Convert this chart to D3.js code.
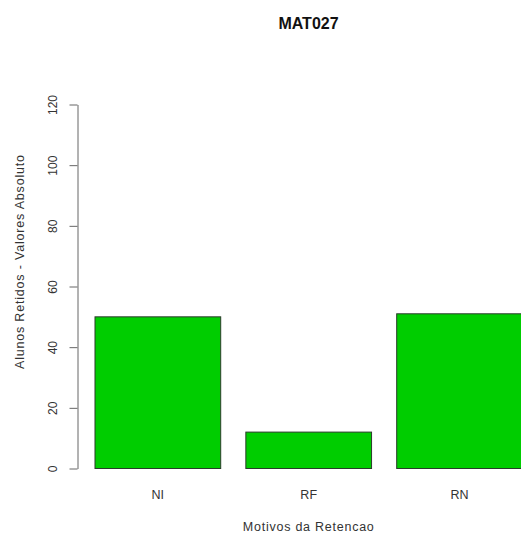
<!DOCTYPE html>
<html>
<head>
<meta charset="utf-8">
<script src="https://cdn.jsdelivr.net/npm/d3@7"></script>
<style>
  html, body { margin: 0; padding: 0; background: #fff; }
  text { font-family: "Liberation Sans", Arial, Helvetica, sans-serif; }
</style>
</head>
<body>
<svg id="chart" width="521" height="534"></svg>
<script>
const categories = ["NI", "RF", "RN"];
const values = [50, 12, 51];
const yTicks = [0, 20, 40, 60, 80, 100, 120];
const title = "MAT027";
const xTitle = "Motivos da Retencao";
const yTitle = "Alunos Retidos - Valores Absoluto";

const svg = d3.select("#chart");

// R barplot coordinates: bar i spans [0.2 + 1.2*i, 1.2 + 1.2*i]
const x = d3.scaleLinear().domain([0.064, 3.736]).range([77.9, 539.5]);
const y = d3.scaleLinear().domain([0, 120]).range([468.5, 104.5]);

const barLeft = i => 0.2 + 1.2 * i;

svg.append("g").selectAll("rect")
  .data(values)
  .join("rect")
  .attr("x", (d, i) => x(barLeft(i)))
  .attr("width", (d, i) => x(barLeft(i) + 1) - x(barLeft(i)))
  .attr("y", d => y(d))
  .attr("height", d => y(0) - y(d))
  .attr("fill", "#00CD00")
  .attr("stroke", "#2b3a2b")
  .attr("stroke-width", 1);

// y axis
const yAxis = d3.axisLeft(y).tickValues(yTicks).tickSizeOuter(0).tickSizeInner(8).tickFormat(d3.format("d"));
const gy = svg.append("g").attr("transform", "translate(77.5,0)").call(yAxis);
gy.select(".domain").attr("stroke", "#666");
gy.selectAll(".tick line").attr("stroke", "#666");
gy.selectAll(".tick text")
  .attr("x", null).attr("dy", null)
  .attr("transform", "translate(-20.5,0) rotate(-90)")
  .attr("text-anchor", "middle")
  .attr("font-size", "12px")
  .attr("fill", "#333")
  .style("font-family", "'Liberation Sans', Arial, sans-serif");

// category labels
svg.append("g").selectAll("text")
  .data(categories)
  .join("text")
  .attr("x", (d, i) => x(barLeft(i) + 0.5))
  .attr("y", 499)
  .attr("text-anchor", "middle")
  .attr("font-size", "12.5px")
  .attr("fill", "#333")
  .text(d => d);

// title
svg.append("text")
  .attr("x", 308.5).attr("y", 29)
  .attr("text-anchor", "middle")
  .attr("font-size", "16px")
  .attr("font-weight", "bold")
  .attr("fill", "#111")
  .text(title);

// x title
svg.append("text")
  .attr("x", 308.3).attr("y", 530.5)
  .attr("text-anchor", "middle")
  .attr("font-size", "12.5px")
  .attr("fill", "#333")
  .attr("textLength", 131)
  .attr("lengthAdjust", "spacing")
  .text(xTitle);

// y title
svg.append("text")
  .attr("transform", "translate(24,262) rotate(-90)")
  .attr("text-anchor", "middle")
  .attr("font-size", "12.5px")
  .attr("fill", "#333")
  .attr("textLength", 214)
  .attr("lengthAdjust", "spacing")
  .text(yTitle);
</script>
</body>
</html>
